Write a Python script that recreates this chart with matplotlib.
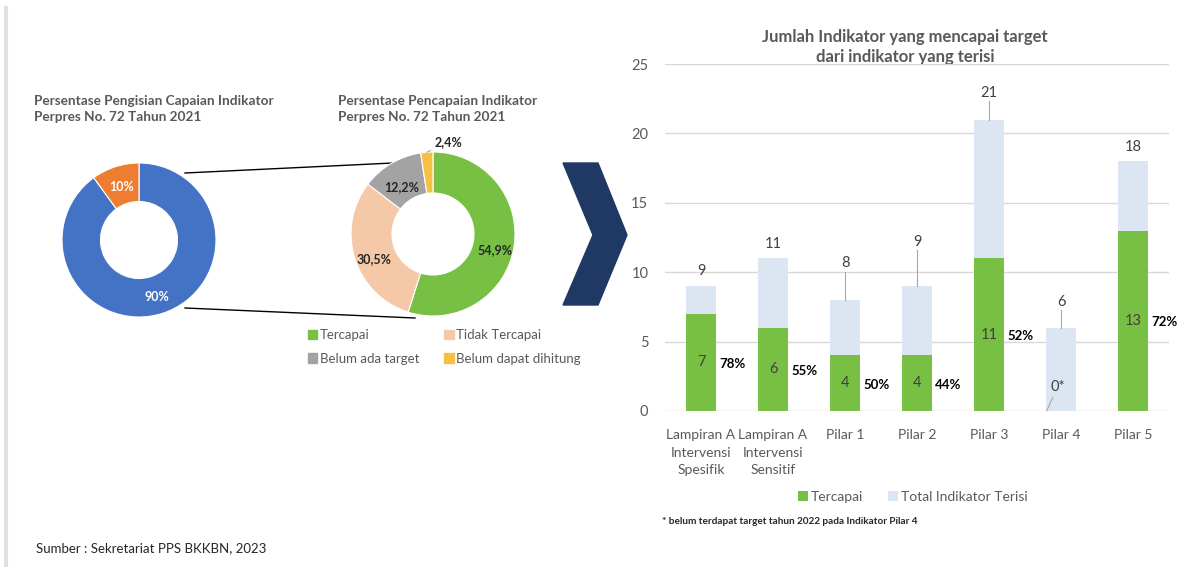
import numpy as np
import matplotlib
matplotlib.use("Agg")
from matplotlib import pyplot as plt
from matplotlib.patches import Polygon, Patch

plt.rcParams['font.family'] = ['Lato', 'DejaVu Sans']

# ---- data ----
fill_labels = ['Tersedia data', 'Tidak tersedia data']
fill_values = [90, 10]

achieve_labels = ['Tercapai', 'Tidak Tercapai', 'Belum ada target', 'Belum dapat dihitung']
achieve_values = [54.9, 30.5, 12.2, 2.4]

categories = ['Lampiran A\nIntervensi\nSpesifik', 'Lampiran A\nIntervensi\nSensitif',
              'Pilar 1', 'Pilar 2', 'Pilar 3', 'Pilar 4', 'Pilar 5']
tercapai = [7, 6, 4, 4, 11, 0, 13]
total = [9, 11, 8, 9, 21, 6, 18]

# ---- style ----
W, H = 1187, 567
GREY_TXT = '#595959'
c_fill = ['#4472c4', '#ed7d31']
c_ach = ['#78c043', '#f5c9a8', '#a3a3a3', '#f6c143']
c_green = '#78c043'
c_light = '#dce6f2'
# label offset above each total bar (data units); leader line when moved far
total_off = [1.1, 1.0, 2.65, 3.2, 1.9, 1.85, 1.0]


def px_axes(fig, cx, cy, r):
    return fig.add_axes([(cx - r) / W, (H - cy - r) / H, 2 * r / W, 2 * r / H])


fig = plt.figure(figsize=(W / 100, H / 100), dpi=100)

# overlay in pixel coordinates for decorations
ov = fig.add_axes([0, 0, 1, 1], zorder=0)
ov.set_xlim(0, W)
ov.set_ylim(H, 0)
ov.axis('off')
ov.plot([6, 6], [8, H], color='#e0e0e0', lw=3)

# ---- donut 1 ----
ax1 = px_axes(fig, 139, 240, 77)
w1, _ = ax1.pie(fill_values, colors=c_fill, startangle=90, counterclock=False,
                radius=1, wedgeprops=dict(width=0.5, edgecolor='white', linewidth=0.8))
ax1.set_xlim(-1, 1)
ax1.set_ylim(-1, 1)
for w, v in zip(w1, fill_values):
    a = np.deg2rad((w.theta1 + w.theta2) / 2)
    ax1.text(0.75 * np.cos(a), 0.75 * np.sin(a) - 0.03, f'{v}%', color='white',
             ha='center', va='center', fontsize=9, fontweight='bold')

ov.text(34, 109, 'Persentase Pengisian Capaian Indikator\nPerpres No. 72 Tahun 2021',
        color=GREY_TXT, fontsize=9.8, fontweight='bold', va='center', linespacing=1.35)
ov.legend([Patch(color=c) for c in c_fill], fill_labels, loc='center left',
          bbox_to_anchor=(14 / W, 1 - 358 / H), bbox_transform=fig.transFigure,
          ncol=2, frameon=False, fontsize=9.5, handlelength=0.7, handleheight=0.7,
          handletextpad=0.2, columnspacing=1.5, labelcolor=GREY_TXT)

# ---- donut 2 ----
ax2 = px_axes(fig, 433, 234, 82)
w2, _ = ax2.pie(achieve_values, colors=c_ach, startangle=90, counterclock=False,
                radius=1, wedgeprops=dict(width=0.5, edgecolor='white', linewidth=0.8))
ax2.set_xlim(-1, 1)
ax2.set_ylim(-1, 1)
for i, (w, v) in enumerate(zip(w2, achieve_values)):
    a = np.deg2rad((w.theta1 + w.theta2) / 2)
    txt = f'{v:.1f}%'.replace('.', ',')
    if i == 3:
        ax2.annotate(txt, xy=(1.0 * np.cos(a), 1.0 * np.sin(a)), xytext=(0.02, 1.12),
                     fontsize=9, fontweight='bold', ha='left', va='center', color='#262626',
                     arrowprops=dict(arrowstyle='-', color='#a6a6a6', lw=0.8,
                                     shrinkA=1, shrinkB=0),
                     annotation_clip=False)
    else:
        ax2.text(0.76 * np.cos(a), 0.76 * np.sin(a) - 0.08, txt, color='#262626',
                 ha='center', va='center', fontsize=9, fontweight='bold')

ov.text(338, 109, 'Persentase Pencapaian Indikator\nPerpres No. 72 Tahun 2021',
        color=GREY_TXT, fontsize=9.8, fontweight='bold', va='center', linespacing=1.35)
order = [0, 2, 1, 3]
ov.legend([Patch(color=c_ach[k]) for k in order], [achieve_labels[k] for k in order],
          loc='center left', bbox_to_anchor=(296 / W, 1 - 347 / H),
          bbox_transform=fig.transFigure, ncol=2, frameon=False, fontsize=9.5,
          handlelength=0.7, handleheight=0.7, handletextpad=0.2, columnspacing=1.9,
          labelspacing=0.85, labelcolor=GREY_TXT)

# connecting lines between the two donuts
ov.plot([185, 393], [173, 163], color='black', lw=1)
ov.plot([185, 415], [308, 318], color='black', lw=1)

# chevron
ov.add_patch(Polygon([(563, 163), (598, 163), (627, 235), (598, 305), (563, 305), (593, 235)],
                     closed=True, color='#1f3864'))

# ---- bar chart ----
ax = fig.add_axes([665 / W, 1 - 411 / H, 504 / W, 347 / H])
x = np.arange(len(categories))
bw = 0.41
ax.bar(x, total, bw, color=c_light, zorder=2, label='Total Indikator Terisi')
ax.bar(x, tercapai, bw, color=c_green, zorder=3, label='Tercapai')
ax.set_xlim(-0.5, len(categories) - 0.5)
ax.set_ylim(0, 25)
ax.set_yticks(range(0, 26, 5))
ax.grid(axis='y', color='#d9d9d9', lw=1)
ax.set_axisbelow(True)
for s in ax.spines.values():
    s.set_visible(False)
ax.tick_params(length=0, colors=GREY_TXT, labelsize=10.5)
ax.tick_params(axis='y', pad=12)
ax.tick_params(axis='x', pad=13, labelsize=10)
ax.set_xticks(x)
ax.set_xticklabels(categories, linespacing=1.55)

for i in range(len(categories)):
    ly = total[i] + total_off[i]
    ax.text(i, ly, str(total[i]), ha='center', va='center', fontsize=10.5, color='#404040')
    if total_off[i] > 1.5:
        ax.plot([i, i], [ly - 0.6, total[i]], color='#a6a6a6', lw=0.8, zorder=4)
    if tercapai[i] > 0:
        ax.text(i, tercapai[i] / 2, str(tercapai[i]), ha='center', va='center',
                fontsize=10.5, color='#404040', zorder=5)
        pct = round(100 * tercapai[i] / total[i])
        ax.text(i + 0.25, tercapai[i] / 2 - 0.1, f'{pct}%', ha='left', va='center',
                fontsize=9.5, fontweight='bold', color='black', zorder=5)
    else:
        ax.annotate('0*', xy=(i - 0.2, 0), xytext=(i - 0.05, 1.7), ha='center', va='center',
                    fontsize=10.5, color='#404040', zorder=5,
                    arrowprops=dict(arrowstyle='-', color='#a6a6a6', lw=0.8,
                                    shrinkA=0, shrinkB=0))

ov.text(905, 47, 'Jumlah Indikator yang mencapai target\ndari indikator yang terisi',
        fontsize=12, fontweight='bold', color=GREY_TXT, ha='center', va='center',
        linespacing=1.35)

h, l = ax.get_legend_handles_labels()
fig.legend(h[::-1], l[::-1], loc='center', bbox_to_anchor=(913 / W, 1 - 497 / H),
           ncol=2, frameon=False, fontsize=10, handlelength=0.7, handleheight=0.7,
           handletextpad=0.2, columnspacing=1.8, labelcolor=GREY_TXT)

ov.text(662, 522, '* belum terdapat target tahun 2022 pada Indikator Pilar 4',
        fontsize=7.2, fontweight='bold', color='#262626', va='center')
ov.text(36, 548, 'Sumber : Sekretariat PPS BKKBN, 2023', fontsize=9.5,
        color='#262626', va='center')

fig.savefig('out.png', dpi=100)
